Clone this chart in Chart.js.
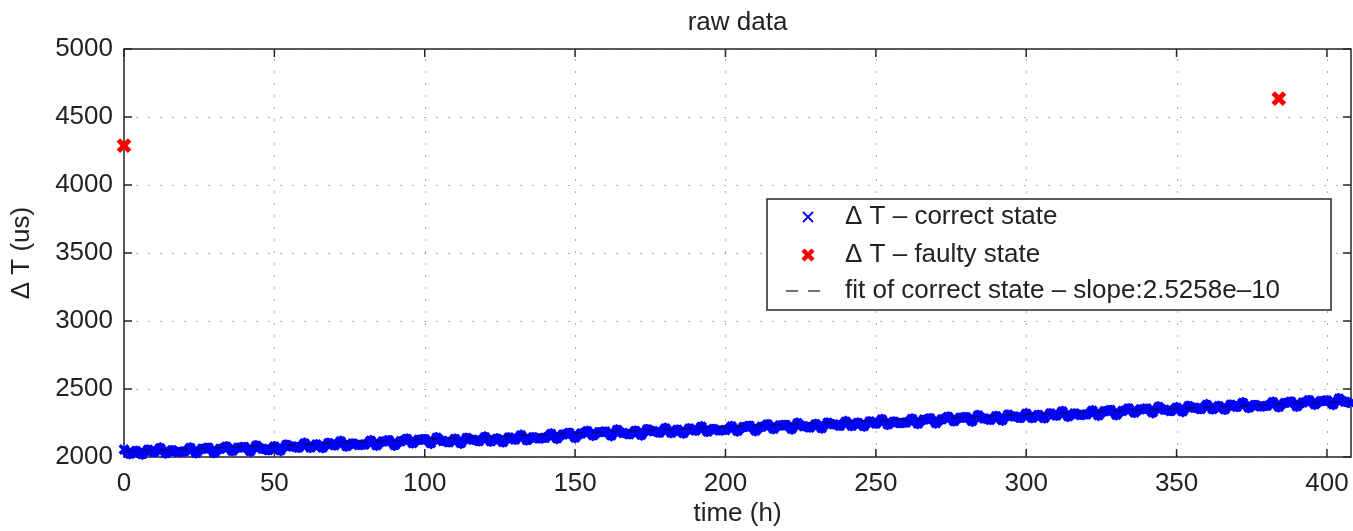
<!DOCTYPE html>
<html>
<head>
<meta charset="utf-8">
<script src="https://cdn.jsdelivr.net/npm/chart.js@4"></script>
<style>
  html, body { margin: 0; padding: 0; background: #fff; }
  #wrap { width: 1353px; height: 531px; }
</style>
</head>
<body>
<div id="wrap"><canvas id="chart" width="1353" height="531"></canvas></div>
<script>
// correct-state samples, one every 2 h from 0 h to 408 h
const sampleStep = 2
const correctValues = [
  2055,2024,2044,2021,2053,2037,2065,2029,2049,2037,
  2040,2066,2032,2060,2068,2033,2060,2076,2046,2069,
  2073,2044,2083,2061,2051,2077,2050,2089,2077,2069,
  2100,2070,2092,2069,2102,2086,2115,2080,2100,2089,
  2092,2119,2086,2114,2123,2088,2116,2133,2103,2127,
  2131,2102,2141,2118,2108,2132,2103,2140,2127,2117,
  2146,2115,2135,2111,2143,2129,2159,2125,2146,2136,
  2141,2169,2137,2166,2177,2144,2173,2190,2159,2183,
  2187,2159,2199,2176,2167,2191,2164,2203,2190,2180,
  2210,2179,2200,2176,2209,2194,2222,2187,2206,2195,
  2199,2225,2192,2220,2229,2194,2222,2239,2208,2232,
  2236,2208,2248,2226,2217,2241,2214,2252,2240,2230,
  2260,2230,2251,2228,2261,2246,2275,2240,2260,2249,
  2253,2280,2247,2275,2284,2250,2278,2295,2265,2289,
  2293,2265,2305,2283,2274,2299,2272,2310,2298,2288,
  2318,2288,2309,2287,2320,2305,2334,2299,2320,2309,
  2313,2340,2307,2336,2345,2311,2339,2356,2327,2351,
  2356,2328,2368,2347,2338,2363,2336,2374,2362,2353,
  2383,2353,2374,2351,2384,2369,2398,2363,2383,2372,
  2376,2403,2370,2398,2407,2373,2400,2417,2387,2411,
  2416,2388,2428,2406,2397
]
const faultyTimes = [0, 384]
const faultyValues = [4290, 4635]
const fitTimes = [0, 408]
const fitValues = [2040, 2410]

const xTicks = [0, 50, 100, 150, 200, 250, 300, 350, 400]
const yTicks = [2000, 2500, 3000, 3500, 4000, 4500, 5000]

const legendLabels = ['\u0394 T \u2013 correct state', '\u0394 T \u2013 faulty state', 'fit of correct state \u2013 slope:2.5258e\u201310']
const chartTitle = 'raw data'
const xTitle = 'time (h)'
const yTitle = '\u0394 T (us)'

const FONT = '"Liberation Sans", Arial, Helvetica, sans-serif'
const TEXT = '#222'
const BLUE = '#0000ff'
const RED = '#ff0000'

const correctPts = correctValues.map((v, i) => ({x: i * sampleStep, y: v}))
const faultyPts = faultyTimes.map((t, i) => ({x: t, y: faultyValues[i]}))
const fitPts = fitTimes.map((t, i) => ({x: t, y: fitValues[i]}))

// grid, box and inward ticks, under the data
const framePlugin = {
  id: 'frame',
  beforeDatasetsDraw(chart){
    const {ctx, chartArea: a, scales: {x, y}} = chart
    ctx.save()
    ctx.strokeStyle = '#b0b0b0'
    ctx.lineWidth = 1
    ctx.setLineDash([2, 10])
    xTicks.forEach(t => {
      const px = Math.round(x.getPixelForValue(t)) + 0.5
      ctx.beginPath(); ctx.moveTo(px, a.bottom); ctx.lineTo(px, a.top); ctx.stroke()
    })
    yTicks.forEach(t => {
      const py = Math.round(y.getPixelForValue(t)) + 0.5
      ctx.beginPath(); ctx.moveTo(a.left, py); ctx.lineTo(a.right, py); ctx.stroke()
    })
    ctx.setLineDash([])
    ctx.strokeStyle = '#262626'
    ctx.lineWidth = 1.5
    ctx.strokeRect(a.left, a.top, a.right - a.left, a.bottom - a.top)
    const tl = 8
    xTicks.forEach(t => {
      const px = x.getPixelForValue(t)
      ctx.beginPath()
      ctx.moveTo(px, a.bottom); ctx.lineTo(px, a.bottom - tl)
      ctx.moveTo(px, a.top); ctx.lineTo(px, a.top + tl)
      ctx.stroke()
    })
    yTicks.forEach(t => {
      const py = y.getPixelForValue(t)
      ctx.beginPath()
      ctx.moveTo(a.left, py); ctx.lineTo(a.left + tl, py)
      ctx.moveTo(a.right, py); ctx.lineTo(a.right - tl, py)
      ctx.stroke()
    })
    ctx.restore()
  }
}

// titles and the boxed legend, on top
const labelsPlugin = {
  id: 'labels',
  afterDraw(chart){
    const {ctx, chartArea: a} = chart
    ctx.save()
    ctx.fillStyle = TEXT
    ctx.font = '26px ' + FONT
    ctx.textAlign = 'center'
    ctx.textBaseline = 'middle'
    ctx.fillText(chartTitle, (a.left + a.right) / 2, 23)
    ctx.fillText(xTitle, (a.left + a.right) / 2, 514)
    ctx.save()
    ctx.translate(22, (a.top + a.bottom) / 2)
    ctx.rotate(-Math.PI / 2)
    ctx.fillText(yTitle, 0, 0)
    ctx.restore()

    // legend box
    const bx = 767, by = 199, bw = 564, bh = 111
    ctx.fillStyle = '#fff'
    ctx.fillRect(bx, by, bw, bh)
    ctx.strokeStyle = '#262626'
    ctx.lineWidth = 1.5
    ctx.strokeRect(bx, by, bw, bh)
    const rows = [217, 255, 291]
    const mx = 808
    // blue cross
    ctx.strokeStyle = BLUE
    ctx.lineWidth = 1.8
    ctx.beginPath()
    ctx.moveTo(mx - 5, rows[0] - 5); ctx.lineTo(mx + 5, rows[0] + 5)
    ctx.moveTo(mx + 5, rows[0] - 5); ctx.lineTo(mx - 5, rows[0] + 5)
    ctx.stroke()
    // red bold cross
    ctx.strokeStyle = RED
    ctx.lineWidth = 4.5
    ctx.beginPath()
    ctx.moveTo(mx - 5, rows[1] - 5); ctx.lineTo(mx + 5, rows[1] + 5)
    ctx.moveTo(mx + 5, rows[1] - 5); ctx.lineTo(mx - 5, rows[1] + 5)
    ctx.stroke()
    // dashed line
    ctx.strokeStyle = '#444'
    ctx.lineWidth = 1.5
    ctx.setLineDash([12, 10])
    ctx.beginPath(); ctx.moveTo(786, rows[2]); ctx.lineTo(830, rows[2]); ctx.stroke()
    ctx.setLineDash([])
    ctx.fillStyle = TEXT
    ctx.textAlign = 'left'
    legendLabels.forEach((l, i) => ctx.fillText(l, 845, rows[i]))
    ctx.restore()
  }
}

const tickFont = {family: FONT, size: 26, lineHeight: 1.2}
const plain = v => String(v)

new Chart(document.getElementById('chart').getContext('2d'), {
  type: 'scatter',
  data: {
    datasets: [
      {label: legendLabels[1], data: faultyPts, pointStyle: 'crossRot', pointRadius: 8,
       pointBorderWidth: 5, pointBorderColor: RED, pointBackgroundColor: RED, showLine: false, clip: false},
      {label: legendLabels[2], data: fitPts, showLine: true, pointRadius: 0, borderColor: 'rgba(10,10,70,0.8)',
       borderWidth: 1.5, borderDash: [10, 8], clip: false},
      {label: legendLabels[0], data: correctPts, pointStyle: 'crossRot', pointRadius: 6,
       pointBorderWidth: 3.5, pointBorderColor: BLUE, pointBackgroundColor: BLUE,
       showLine: true, borderColor: BLUE, borderWidth: 10, clip: false}
    ]
  },
  options: {
    responsive: false,
    animation: false,
    events: [],
    layout: {autoPadding: false, padding: {top: 49, right: 2, left: 0, bottom: 0}},
    plugins: {legend: {display: false}, title: {display: false}, tooltip: {enabled: false}},
    scales: {
      x: {
        type: 'linear', min: 0, max: 408,
        afterFit(s){ s.height = 74; s.paddingLeft = 0; s.paddingRight = 0 },
        afterBuildTicks(s){ s.ticks = xTicks.map(v => ({value: v})) },
        ticks: {stepSize: 50, includeBounds: false, font: tickFont, color: TEXT, padding: 11, maxRotation: 0, callback: plain},
        grid: {display: false, drawTicks: false},
        border: {display: false}
      },
      y: {
        type: 'linear', min: 2000, max: 5000,
        afterFit(s){ s.width = 124 },
        afterBuildTicks(s){ s.ticks = yTicks.map(v => ({value: v})) },
        ticks: {stepSize: 500, includeBounds: false, font: tickFont, color: TEXT, padding: 11, callback: plain},
        grid: {display: false, drawTicks: false},
        border: {display: false}
      }
    }
  },
  plugins: [framePlugin, labelsPlugin]
})
</script>
</body>
</html>
